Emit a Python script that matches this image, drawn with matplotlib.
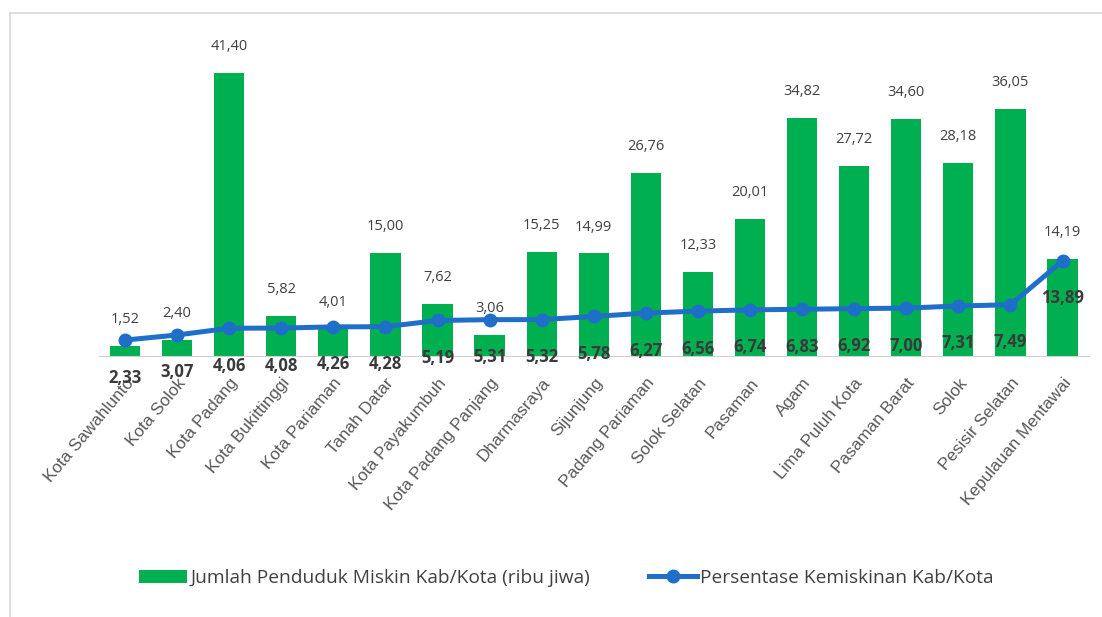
import matplotlib.pyplot as plt
from matplotlib.lines import Line2D

# %% Data
kab_kota = ['Kota Sawahlunto', 'Kota Solok', 'Kota Padang', 'Kota Bukittinggi', 'Kota Pariaman',
            'Tanah Datar', 'Kota Payakumbuh', 'Kota Padang Panjang', 'Dharmasraya', 'Sijunjung',
            'Padang Pariaman', 'Solok Selatan', 'Pasaman', 'Agam', 'Lima Puluh Kota',
            'Pasaman Barat', 'Solok', 'Pesisir Selatan', 'Kepulauan Mentawai']
jumlah_miskin = [1.52, 2.40, 41.40, 5.82, 4.01, 15.00, 7.62, 3.06, 15.25, 14.99,
                 26.76, 12.33, 20.01, 34.82, 27.72, 34.60, 28.18, 36.05, 14.19]
persen_miskin = [2.33, 3.07, 4.06, 4.08, 4.26, 4.28, 5.19, 5.31, 5.32, 5.78,
                 6.27, 6.56, 6.74, 6.83, 6.92, 7.00, 7.31, 7.49, 13.89]

green = '#00B050'
blue = '#1F6FC9'
narrow = ['Open Sans', 'DejaVu Sans']


def fmt(v):
    return f"{v:.2f}".replace('.', ',')


# %% Plot
fig = plt.figure(figsize=(11.02, 6.17), dpi=100)
ax = fig.add_axes([0.0898, 0.423, 0.898, 0.528])
x = list(range(len(kab_kota)))

bars = ax.bar(x, jumlah_miskin, width=0.58, color=green, zorder=2,
              label='Jumlah Penduduk Miskin Kab/Kota (ribu jiwa)')
line, = ax.plot(x, persen_miskin, color=blue, linewidth=3.6, marker='o', markersize=9, zorder=3,
                label='Persentase Kemiskinan Kab/Kota')

for xi, v in zip(x, jumlah_miskin):
    ax.annotate(fmt(v), (xi, v), xytext=(0, 19), textcoords='offset points',
                ha='center', va='center', fontsize=10.5, color='#404040', family=narrow)
for xi, v in zip(x, persen_miskin):
    ax.annotate(fmt(v), (xi, v), xytext=(0, -27), textcoords='offset points',
                ha='center', va='center', fontsize=12, color='#3a3a3a',
                fontweight='bold', family=narrow, zorder=4)

ax.set_xlim(-0.5, len(kab_kota) - 0.5)
ax.set_ylim(0, 47.6)
ax.set_yticks([])
ax.set_xticks(x)
ax.set_xticklabels(kab_kota, rotation=50, ha='right', rotation_mode='anchor',
                   fontsize=12.3, color='#595959', family='Liberation Sans')
ax.tick_params(axis='x', length=0, pad=14)
for s in ['top', 'right', 'left']:
    ax.spines[s].set_visible(False)
ax.spines['bottom'].set_color('#d0d0d0')

fig.legend(handles=[bars, line], loc='center', bbox_to_anchor=(0.514, 0.063), ncol=2,
           frameon=False, prop={'family': narrow, 'size': 13.8}, columnspacing=3.1,
           handlelength=2.5, handletextpad=0.15, labelcolor='#404040')

# outer frame (left and top edges visible)
fig.add_artist(Line2D([0.009, 0.009], [0.0, 0.979], transform=fig.transFigure,
                      color='#d9d9d9', linewidth=1.2))
fig.add_artist(Line2D([0.009, 1.0], [0.979, 0.979], transform=fig.transFigure,
                      color='#d9d9d9', linewidth=1.2))

plt.savefig('out.png', dpi=100)
